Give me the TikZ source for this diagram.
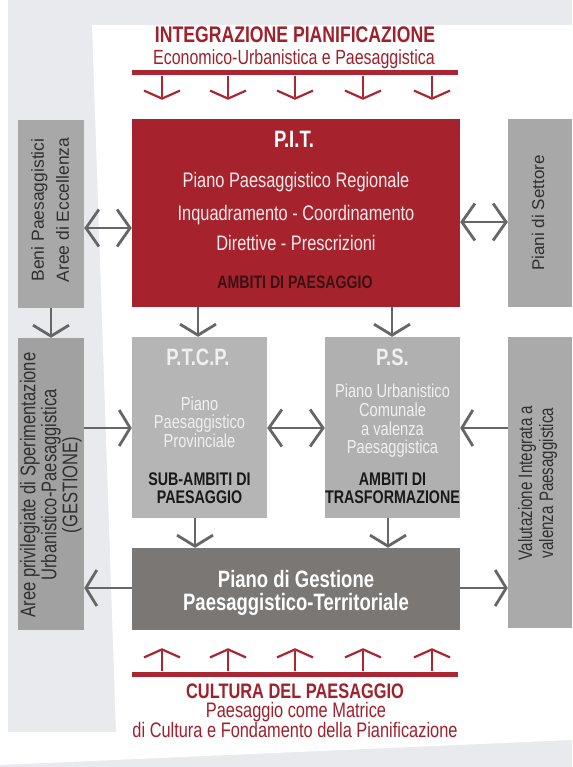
\documentclass[tikz,border=0pt]{standalone}
\usepackage{fontspec}
\setmainfont{Liberation Sans}[FakeStretch=0.78]
\newfontfamily\widefont{Liberation Sans}
\usetikzlibrary{arrows.meta}
\definecolor{pitred}{RGB}{166,35,46}
\definecolor{barred}{RGB}{170,38,50}
\definecolor{titred}{RGB}{160,32,44}
\definecolor{boxgray}{RGB}{168,168,168}
\definecolor{lightbox}{RGB}{181,181,181}
\definecolor{darkbox}{RGB}{122,119,117}
\definecolor{arrgray}{RGB}{102,102,102}
\definecolor{pagebg}{RGB}{233,234,238}
\definecolor{inktext}{RGB}{48,48,48}
\definecolor{darkred}{RGB}{58,16,18}
\definecolor{pittext}{RGB}{248,234,234}
\definecolor{paletext}{RGB}{240,240,240}
\newcommand{\setfs}[2]{\fontsize{#1}{#2}\selectfont}

\begin{document}
\begin{tikzpicture}[x=1pt, y=-1pt,
  box/.style args={#1x#2}{rectangle, inner sep=0pt, minimum width=#1pt, minimum height=#2pt},
  bar/.style={rectangle, fill=barred, inner sep=0pt, minimum width=326pt, minimum height=5pt},
  redarr/.style={draw=barred, line width=2.2pt, -{Straight Barb[length=8pt,width=36pt]}},
  grayarr/.style={draw=arrgray, line width=2.8pt, -{Straight Barb[length=11pt,width=36pt]}},
  dblarr/.style={draw=arrgray, line width=2.8pt, {Straight Barb[length=13pt,width=37pt]}-{Straight Barb[length=13pt,width=37pt]}},
  txt/.style={anchor=base, inner sep=0pt}]
\useasboundingbox (0,0) rectangle (572,767);
\fill[pagebg] (0,0) rectangle (572,767);
\fill[white] (92,25) -- (572,25) -- (572,740) -- (0,765) -- (0,732) -- (116,732) -- cycle;
\fill[white] (0,0) rectangle (8,732);

\node[txt, text=titred, font=\bfseries\setfs{22.6}{22.6}] at (295,43) (titA) {INTEGRAZIONE PIANIFICAZIONE};
\node[txt, text=titred, font=\setfs{20.5}{20.5}] at (294,65) (titB) {Economico-Urbanistica e Paesaggistica};
\node[bar] at (295,73) (topbar) {};

\node[box=328x188, fill=pitred] at (296,213) (pit) {};
\node[txt, text=white, font=\bfseries\setfs{23.7}{23.7}] at (294,148) (pitA) {P.I.T.};
\node[txt, text=pittext, font=\setfs{21}{21}] at (296,188) (pitB) {Piano Paesaggistico Regionale};
\node[txt, text=pittext, font=\setfs{21}{21}] at (296,220) (pitC) {Inquadramento - Coordinamento};
\node[txt, text=pittext, font=\setfs{21}{21}] at (296,250) (pitD) {Direttive - Prescrizioni};
\node[txt, text=darkred, font=\bfseries\setfs{18.1}{18.1}] at (295,288) (pitE) {AMBITI DI PAESAGGIO};

\node[box=66x188, fill=boxgray] at (51,214) (beni) {};
\node[rotate=90, align=center, text=inktext, font=\widefont\setfs{17.5}{25}] at (50,210) (beniT) {Beni Paesaggistici\\Aree di Eccellenza};
\node[box=66x292, fill=boxgray!96!black] at (51,484) (aree) {};
\node[rotate=90, align=center, text=inktext, font=\setfs{21.2}{21}] at (51,485) (areeT) {Aree privilegiate di Sperimentazione\\Urbanistico-Paesaggistica\\(GESTIONE)};

\node[box=64x188, fill=boxgray] at (540,213) (settore) {};
\node[rotate=90, text=inktext, font=\widefont\setfs{17}{17}] at (538,213) (settoreT) {Piani di Settore};
\node[box=64x291, fill=boxgray!98!white] at (540,482.5) (valut) {};
\node[rotate=90, align=center, text=inktext, font=\setfs{19.4}{21}] at (537.5,483) (valutT) {Valutazione Integrata a\\valenza Paesaggistica};

\node[box=135x181, fill=lightbox] at (199.5,427.5) (ptcp) {};
\node[txt, text=paletext, font=\bfseries\setfs{23.7}{23.7}] at (198,365) (ptcpA) {P.T.C.P.};
\node[txt, text=paletext, font=\setfs{18.8}{18.8}] at (199.5,410) (ptcpB) {Piano};
\node[txt, text=paletext, font=\setfs{18.8}{18.8}] at (199.5,428) (ptcpC) {Paesaggistico};
\node[txt, text=paletext, font=\setfs{18.8}{18.8}] at (199.5,447) (ptcpD) {Provinciale};
\node[txt, text=black!90, font=\bfseries\setfs{18.3}{18.3}] at (199.5,485) (ptcpE) {SUB-AMBITI DI};
\node[txt, text=black!90, font=\bfseries\setfs{18.3}{18.3}] at (199.5,503) (ptcpF) {PAESAGGIO};

\node[box=135x181, fill=lightbox!97!black] at (392.5,427.5) (ps) {};
\node[txt, text=paletext, font=\bfseries\setfs{23.7}{23.7}] at (392.5,365) (psA) {P.S.};
\node[txt, text=paletext, font=\setfs{18.8}{18.8}] at (392.5,397) (psB) {Piano Urbanistico};
\node[txt, text=paletext, font=\setfs{18.8}{18.8}] at (392.5,416) (psC) {Comunale};
\node[txt, text=paletext, font=\setfs{18.8}{18.8}] at (392.5,435) (psD) {a valenza};
\node[txt, text=paletext, font=\setfs{18.8}{18.8}] at (392.5,453) (psE) {Paesaggistica};
\node[txt, text=black!90, font=\bfseries\setfs{18.3}{18.3}] at (392.5,485) (psF) {AMBITI DI};
\node[txt, text=black!90, font=\bfseries\setfs{18.3}{18.3}] at (392.5,503) (psG) {TRASFORMAZIONE};

\node[box=328x82, fill=darkbox] at (296,589) (gest) {};
\node[txt, text=white, font=\bfseries\setfs{23.7}{23.7}] at (296,587) (gestA) {Piano di Gestione};
\node[txt, text=white, font=\bfseries\setfs{23.7}{23.7}] at (296,610) (gestB) {Paesaggistico-Territoriale};

\node[bar] at (295,674) (botbar) {};
\node[txt, text=titred, font=\bfseries\setfs{21}{21}] at (295,698) (cultA) {CULTURA DEL PAESAGGIO};
\node[txt, text=titred, font=\setfs{21}{21}] at (296,717) (cultB) {Paesaggio come Matrice};
\node[txt, text=titred, font=\setfs{21}{21}] at (295,737) (cultC) {di Cultura e Fondamento della Pianificazione};

\foreach \x in {162,228,295,363,432} {
  \draw[redarr, shorten >=19pt] (topbar.south -| \x,0) -- (pit.north -| \x,0);
  \draw[redarr, shorten >=18pt] (botbar.north -| \x,0) -- (gest.south -| \x,0);
}

\draw[dblarr] (beni.east |- 0,228) -- (pit.west |- 0,228);
\draw[dblarr] (pit.east |- 0,222) -- (settore.west |- 0,222);
\draw[grayarr] (beni.south) -- (aree.north);
\draw[grayarr] (pit.south -| 198,0) -- (ptcp.north -| 198,0);
\draw[grayarr] (pit.south -| 392,0) -- (ps.north -| 392,0);
\draw[grayarr] (aree.east |- 0,428) -- (ptcp.west |- 0,428);
\draw[dblarr] (ptcp.east |- 0,428) -- (ps.west |- 0,428);
\draw[grayarr] (valut.west |- 0,428) -- (ps.east |- 0,428);
\draw[grayarr] (ptcp.south -| 195,0) -- (gest.north -| 195,0);
\draw[grayarr] (ps.south -| 388,0) -- (gest.north -| 388,0);
\draw[grayarr] (gest.west |- 0,588) -- (aree.east |- 0,588);
\draw[grayarr] (gest.east |- 0,588) -- (valut.west |- 0,588);
\end{tikzpicture}
\end{document}
